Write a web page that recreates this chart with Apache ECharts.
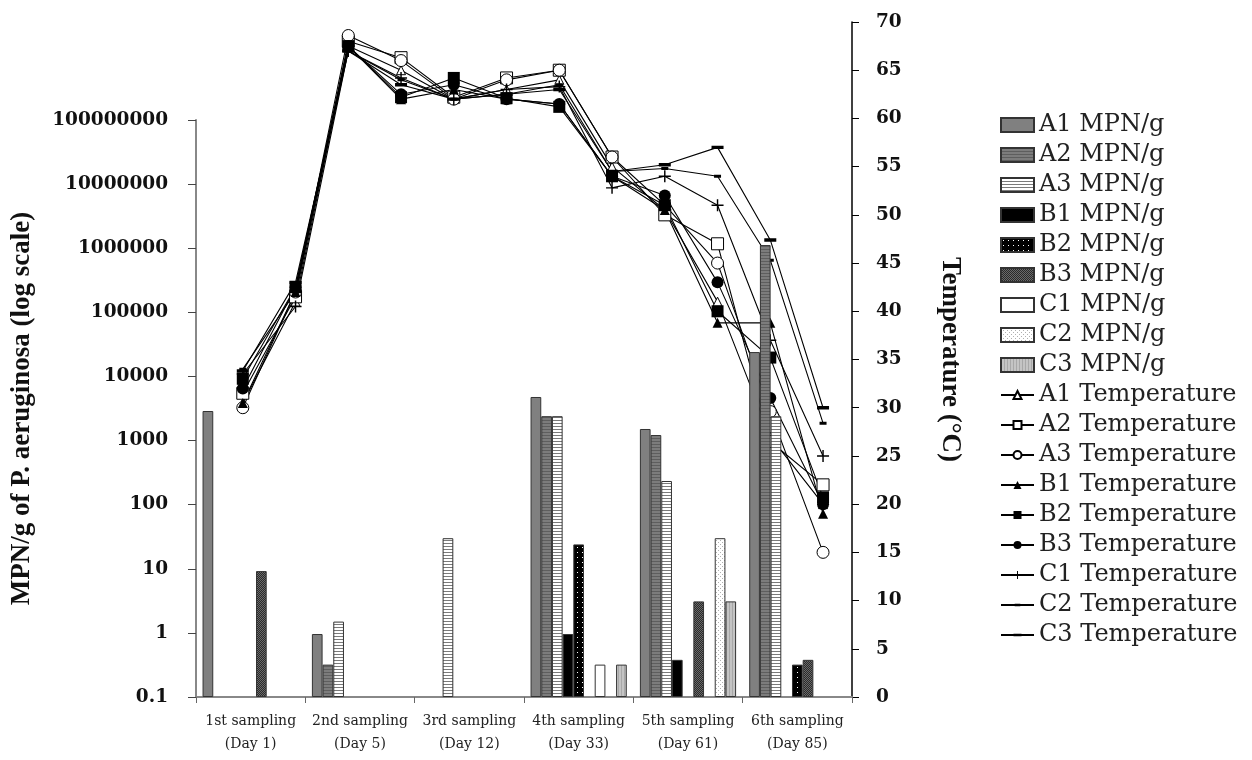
<!DOCTYPE html>
<html><head><meta charset="utf-8">
<script src="https://cdn.jsdelivr.net/npm/echarts@6/dist/echarts.min.js"></script>
<style>html,body{margin:0;padding:0;background:#fff}#c{width:1252px;height:760px}</style>
</head><body><div id="c"></div>
<script>
// ---- data ----
const categories = ['1st sampling\n(Day 1)', '2nd sampling\n(Day 5)', '3rd sampling\n(Day 12)', '4th sampling\n(Day 33)', '5th sampling\n(Day 61)', '6th sampling\n(Day 85)'];
const mpnA1 = [2890, 0.96, null, 4780, 1515, 24000];
const mpnA2 = [null, 0.32, null, 2400, 1220, 1120000];
const mpnA3 = [null, 1.5, 30, 2400, 234, 2400];
const mpnB1 = [null, null, null, 0.96, 0.38, null];
const mpnB2 = [null, null, null, 24, null, 0.32];
const mpnB3 = [9.2, null, null, null, 3.1, 0.38];
const mpnC1 = [null, null, null, 0.32, null, null];
const mpnC2 = [null, null, null, null, 30, null];
const mpnC3 = [null, null, null, 0.32, 3.1, null];
const logTickLabels = ['0.1', '1', '10', '100', '1000', '10000', '100000', '1000000', '10000000', '100000000'];

const tempPoint = [0, 1, 2, 3, 4, 5, 6, 7, 8, 9, 10, 11];
const tempA1 = [30.5, 41, 67.5, 65, 62, 63, 64, 55, 50.5, 41, 27, 20];
const tempA2 = [31.5, 41.5, 68, 66.3, 62.2, 64.2, 65, 56, 50, 47, 26.5, 22];
const tempA3 = [30, 42, 68.6, 66, 62, 64, 65, 56, 51, 45, 29.6, 15];
const tempB1 = [30.5, 42, 67.5, 62, 63, 62, 61.5, 54, 50.5, 38.8, 38.8, 19];
const tempB2 = [33, 42.5, 67.5, 62.2, 64.2, 62.1, 61.2, 54, 51, 40, 35.2, 20.7];
const tempB3 = [32, 42.5, 67.5, 62.5, 63.5, 62, 61.5, 54, 52, 43, 31, 20];
const tempC1 = [33.5, 40.5, 67, 64.2, 62, 63, 63.3, 52.8, 54, 51, 37, 25];
const tempC2 = [34, 42, 67, 64, 62, 62.5, 63.5, 54.5, 54.8, 54, 45.3, 28.4];
const tempC3 = [33.8, 43, 67, 63.5, 62, 62.5, 63, 54.5, 55.2, 57, 47.4, 30];

// ---- styles ----
function pattern(w, h, bg, draw) {
  const c = document.createElement('canvas');
  c.width = w; c.height = h;
  const g = c.getContext('2d');
  g.fillStyle = bg; g.fillRect(0, 0, w, h);
  if (draw) draw(g);
  return { image: c, repeat: 'repeat' };
}
const fills = {
  A1: '#808080',
  A2: pattern(4, 3, '#7c7c7c', g => { g.fillStyle = '#5e5e5e'; g.fillRect(0, 0, 4, 1); }),
  A3: pattern(4, 3, '#ffffff', g => { g.fillStyle = '#7a7a7a'; g.fillRect(0, 0, 4, 1); }),
  B1: '#000000',
  B2: pattern(5, 5, '#000000', g => { g.fillStyle = '#ffffff'; g.fillRect(2, 2, 1, 1); }),
  B3: pattern(2, 2, '#2a2a2a', g => { g.fillStyle = '#6a6a6a'; g.fillRect(0, 0, 1, 1); g.fillRect(1, 1, 1, 1); }),
  C1: '#ffffff',
  C2: pattern(4, 4, '#ffffff', g => { g.fillStyle = '#b0b0b0'; g.fillRect(0, 0, 1, 1); g.fillRect(2, 2, 1, 1); }),
  C3: pattern(3, 1, '#c4c4c4', g => { g.fillStyle = '#a8a8a8'; g.fillRect(0, 0, 1, 1); })
};

const barDefs = [
  ['A1 MPN/g', mpnA1, 'A1'], ['A2 MPN/g', mpnA2, 'A2'], ['A3 MPN/g', mpnA3, 'A3'],
  ['B1 MPN/g', mpnB1, 'B1'], ['B2 MPN/g', mpnB2, 'B2'], ['B3 MPN/g', mpnB3, 'B3'],
  ['C1 MPN/g', mpnC1, 'C1'], ['C2 MPN/g', mpnC2, 'C2'], ['C3 MPN/g', mpnC3, 'C3']
];
// symbol shapes (tiny corner squares keep the box square so the dash keeps its proportions)
const plusPath = 'path://M4.4,0h1.2v4.4h4.4v1.2h-4.4v4.4h-1.2v-4.4h-4.4v-1.2h4.4z';
const smallDash = 'path://M0,0h0.05v0.05h-0.05z M9.95,9.95h0.05v0.05h-0.05z M1.5,3.5h7v3h-7z';
const wideDash = 'path://M0,0h0.05v0.05h-0.05z M11.95,11.95h0.05v0.05h-0.05z M0,4.3h12v3.4h-12z';
const lineDefs = [
  ['A1 Temperature', tempA1, 'triangle', 9, false],
  ['A2 Temperature', tempA2, 'rect', 12, false],
  ['A3 Temperature', tempA3, 'circle', 12, false],
  ['B1 Temperature', tempB1, 'triangle', 10, true],
  ['B2 Temperature', tempB2, 'rect', 12, true],
  ['B3 Temperature', tempB3, 'circle', 12, true],
  ['C1 Temperature', tempC1, plusPath, 12, true],
  ['C2 Temperature', tempC2, smallDash, 10, true],
  ['C3 Temperature', tempC3, wideDash, 12, true]
];

const series = [];
lineDefs.forEach(([name, vals, sym, size, filled]) => {
  series.push({
    name, type: 'line', xAxisIndex: 1, yAxisIndex: 1,
    data: tempPoint.map((x, i) => [x, vals[i]]),
    symbol: sym, symbolSize: size, showAllSymbol: true,
    itemStyle: filled ? { color: '#000', borderWidth: 0 } : { color: '#fff', borderColor: '#000', borderWidth: 1 },
    lineStyle: { color: '#000', width: 1.1 },
    z: 2, animation: false
  });
});
barDefs.forEach(([name, vals, key]) => {
  series.push({
    name, type: 'bar', xAxisIndex: 0, yAxisIndex: 0, data: vals,
    barGap: '0%', barCategoryGap: '12%',
    itemStyle: { color: fills[key], borderColor: '#333', borderWidth: 1 },
    z: 3, animation: false
  });
});

const legendText = { fontFamily: 'DejaVu Serif', fontSize: 24, color: '#222', lineHeight: 24 };

const chart = echarts.init(document.getElementById('c'), null, { renderer: 'canvas' });
chart.setOption({
  animation: false,
  backgroundColor: '#fff',
  grid: [
    { left: 196, right: 400, top: 120, bottom: 63 },
    { left: 196, right: 400, top: 22, bottom: 63 }
  ],
  legend: [
    {
      data: barDefs.map(d => ({ name: d[0], icon: 'rect' })), orient: 'vertical', left: 1000, top: 113, padding: 0,
      itemWidth: 33, itemHeight: 14, itemGap: 6, selectedMode: false, textStyle: legendText
    },
    {
      data: lineDefs.map(d => d[0]), orient: 'vertical', left: 1000, top: 383, padding: 0,
      itemWidth: 33, itemHeight: 10, itemGap: 6, selectedMode: false, textStyle: legendText
    }
  ],
  xAxis: [
    {
      type: 'category', gridIndex: 0, data: categories,
      axisLine: { lineStyle: { color: '#888', width: 2 } },
      axisTick: { show: true, length: 6, lineStyle: { color: '#666' } },
      axisLabel: { interval: 0, fontFamily: 'DejaVu Serif', fontSize: 14, color: '#222', lineHeight: 23, margin: 13 }
    },
    { type: 'value', gridIndex: 1, min: -0.887, max: 11.549, show: false }
  ],
  yAxis: [
    {
      type: 'log', gridIndex: 0, logBase: 10, min: 0.1, max: 1e8, splitNumber: 9, startValue: 0.1,
      axisLine: { show: true, lineStyle: { color: '#888', width: 2 } },
      axisTick: { show: true, length: 8, lineStyle: { color: '#444' } },
      splitLine: { show: false },
      axisLabel: {
        fontFamily: 'DejaVu Serif', fontWeight: 'bold', fontSize: 18.5, color: '#111', margin: 28,
        formatter: v => { const k = Math.round(Math.log10(v)) + 1; return logTickLabels[k] || ''; }
      },
      name: 'MPN/g of P. aeruginosa (log scale)', nameLocation: 'middle', nameGap: 160,
      nameTextStyle: { fontFamily: 'Liberation Serif', fontWeight: 'bold', fontSize: 27, color: '#111' }
    },
    {
      type: 'value', gridIndex: 1, position: 'right', min: 0, max: 70, interval: 5,
      axisLine: { show: true, onZero: false, lineStyle: { color: '#000', width: 1.5 } },
      axisTick: { show: true, length: 7, lineStyle: { color: '#000' } },
      splitLine: { show: false },
      axisLabel: { fontFamily: 'DejaVu Serif', fontWeight: 'bold', fontSize: 18.5, color: '#111', margin: 24 },
      name: 'Temperature (°C)', nameLocation: 'middle', nameRotate: -90, nameGap: 84,
      nameTextStyle: { fontFamily: 'Liberation Serif', fontWeight: 'bold', fontSize: 27, color: '#111' }
    }
  ],
  series
});
</script></body></html>
